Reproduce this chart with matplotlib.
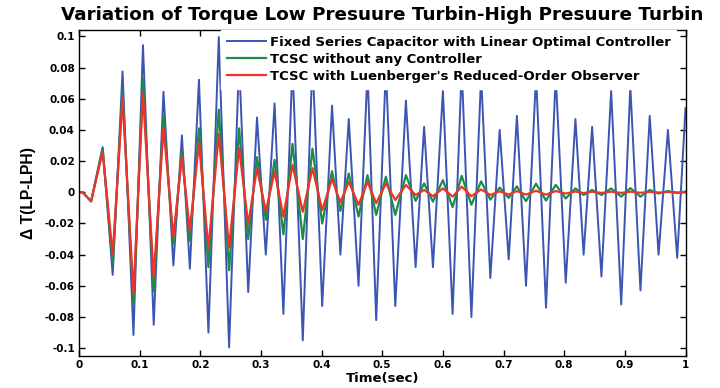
import matplotlib
matplotlib.use("Agg")
import matplotlib.pyplot as plt

plt.rcParams['font.family'] = ['DejaVu Sans']

# extrema times (s) shared by the three series
t_ext = [0.000, 0.006, 0.020, 0.039, 0.0556, 0.0718, 0.0898, 0.1055, 0.1232, 0.1393,
         0.1556, 0.1697, 0.1828, 0.1978, 0.2134, 0.2305, 0.2475, 0.2640, 0.2790, 0.2935,
         0.3080, 0.3225, 0.3370, 0.3520, 0.3690, 0.3850, 0.4010, 0.4172, 0.4310, 0.4448,
         0.4609, 0.4757, 0.4900, 0.5060, 0.5215, 0.5390, 0.5550, 0.5690, 0.5836, 0.6000,
         0.6160, 0.6310, 0.6470, 0.6630, 0.6782, 0.6936, 0.7085, 0.7220, 0.7370, 0.7536,
         0.7700, 0.7860, 0.8025, 0.8185, 0.8320, 0.8460, 0.8614, 0.8774, 0.8940, 0.9090,
         0.9257, 0.9410, 0.9556, 0.9710, 0.9863, 1.0000]

fixed_series = [0.000, 0.000, -0.0058, 0.029, -0.053, 0.0775, -0.0915, 0.0944, -0.085, 0.0645,
                -0.047, 0.0365, -0.049, 0.0722, -0.090, 0.0996, -0.0995, 0.085, -0.064, 0.048,
                -0.040, 0.057, -0.078, 0.082, -0.095, 0.085, -0.073, 0.0556, -0.040, 0.047,
                -0.060, 0.078, -0.082, 0.080, -0.073, 0.0588, -0.048, 0.042, -0.048, 0.065,
                -0.078, 0.080, -0.080, 0.075, -0.055, 0.040, -0.043, 0.049, -0.060, 0.075,
                -0.074, 0.075, -0.058, 0.047, -0.040, 0.042, -0.054, 0.065, -0.072, 0.068,
                -0.063, 0.049, -0.040, 0.040, -0.042, 0.054]

tcsc_no_ctrl = [0.000, 0.000, -0.0058, 0.028, -0.046, 0.0655, -0.072, 0.073, -0.0635, 0.0485,
                -0.033, 0.026, -0.031, 0.041, -0.048, 0.053, -0.050, 0.041, -0.030, 0.0225,
                -0.0176, 0.0208, -0.027, 0.031, -0.030, 0.028, -0.020, 0.0135, -0.012, 0.0121,
                -0.0155, 0.011, -0.0145, 0.010, -0.0145, 0.011, -0.0055, 0.0057, -0.006, 0.0078,
                -0.0095, 0.0105, -0.008, 0.007, -0.0047, 0.0030, -0.0036, 0.0038, -0.0057, 0.0055,
                -0.0053, 0.0048, -0.0040, 0.0025, -0.0017, 0.0015, -0.0017, 0.0025, -0.0028, 0.0027,
                -0.0028, 0.0015, -0.0008, 0.0008, -0.0005, 0.0005]

tcsc_luenberger = [0.000, 0.000, -0.0058, 0.026, -0.040, 0.060, -0.065, 0.0635, -0.0545, 0.0415,
                   -0.0285, 0.0228, -0.0245, 0.032, -0.036, 0.0375, -0.0355, 0.0285, -0.0205, 0.0155,
                   -0.0122, 0.0133, -0.0155, 0.0176, -0.0125, 0.0155, -0.0115, 0.0085, -0.0065, 0.0068,
                   -0.0081, 0.0068, -0.0070, 0.0057, -0.0049, 0.0047, -0.0017, 0.0015, -0.0025, 0.0025,
                   -0.0028, 0.0036, -0.0025, 0.0018, -0.0017, 0.0006, -0.0015, 0.0008, -0.0015, 0.0010,
                   -0.0015, 0.0008, -0.0008, 0.0005, -0.0005, 0.0004, -0.0004, 0.0004, -0.0004, 0.0004,
                   -0.0003, 0.0003, -0.0002, 0.0002, -0.0001, 0.0000]

labels = ["Fixed Series Capacitor with Linear Optimal Controller",
          "TCSC without any Controller",
          "TCSC with Luenberger's Reduced-Order Observer"]

x_ticks = [0, 0.1, 0.2, 0.3, 0.4, 0.5, 0.6, 0.7, 0.8, 0.9, 1.0]
x_tick_labels = ["0", "0.1", "0.2", "0.3", "0.4", "0.5", "0.6", "0.7", "0.8", "0.9", "1"]
y_ticks = [-0.1, -0.08, -0.06, -0.04, -0.02, 0, 0.02, 0.04, 0.06, 0.08, 0.1]
y_tick_labels = ["-0.1", "-0.08", "-0.06", "-0.04", "-0.02", "0", "0.02", "0.04", "0.06", "0.08", "0.1"]

fig = plt.figure(figsize=(7.2, 3.88), dpi=100)
ax = fig.add_axes([0.1097, 0.0825, 0.8424, 0.841])

ax.plot(t_ext, fixed_series, color='#3b55b2', lw=1.4, label=labels[0], solid_joinstyle='round')
ax.plot(t_ext, tcsc_no_ctrl, color='#1c8c4a', lw=1.6, label=labels[1], solid_joinstyle='round')
ax.plot(t_ext, tcsc_luenberger, color='#f0322d', lw=1.6, label=labels[2], solid_joinstyle='round')

ax.set_xlim(0, 1)
ax.set_ylim(-0.105, 0.1043)
ax.set_xticks(x_ticks)
ax.set_xticklabels(x_tick_labels)
ax.set_yticks(y_ticks)
ax.set_yticklabels(y_tick_labels)
ax.tick_params(direction='in', top=True, right=True, length=4, width=1, labelsize=7.5, pad=3)
for lab in ax.get_xticklabels() + ax.get_yticklabels():
    lab.set_fontweight('bold')
for s in ax.spines.values():
    s.set_linewidth(1.0)

ax.set_xlabel("Time(sec)", fontsize=9.5, fontweight='bold', labelpad=1)
ax.set_ylabel("\u0394 T(LP-LPH)", fontsize=11.3, fontweight='bold', labelpad=6,
              family=['Liberation Sans', 'DejaVu Sans'])
ax.set_title("Variation of Torque Low Presuure Turbin-High Presuure Turbin",
             fontsize=13.2, fontweight='bold', pad=7)

leg = ax.legend(loc='upper right', bbox_to_anchor=(0.985, 1.0), frameon=True, fancybox=False,
                framealpha=1, facecolor='white', edgecolor='white', borderaxespad=0.0,
                borderpad=0.45, handlelength=2.9, handletextpad=0.3, labelspacing=0.3,
                prop={'size': 9.55, 'weight': 'bold'})
leg.set_zorder(5)

fig.savefig("out.png", dpi=100)
